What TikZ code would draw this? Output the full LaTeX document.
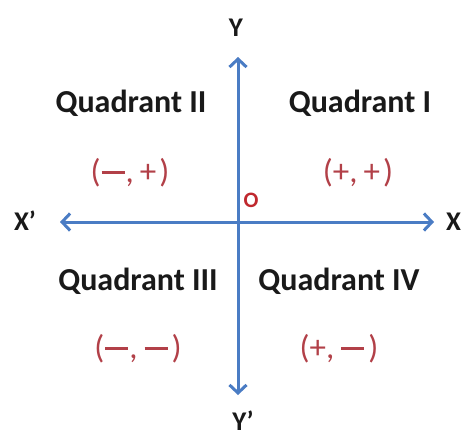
\documentclass[tikz,border=0pt]{standalone}
\usepackage{fontspec}
\setmainfont{Carlito}
\usetikzlibrary{arrows.meta}
\definecolor{axisblue}{RGB}{74,124,196}
\definecolor{signred}{RGB}{178,64,72}
\definecolor{ored}{RGB}{192,40,46}
\definecolor{txtblack}{RGB}{25,25,25}
\newcommand\mn{\kern1pt\rule[8pt]{23pt}{2.6pt}\kern1pt}
\newcommand\sgn[2]{(#1,\kern6pt#2\kern3pt)}
\tikzset{
  axisline/.style={draw=axisblue, line width=3pt,
    {Straight Barb[length=8pt,width=17pt]}-{Straight Barb[length=8pt,width=17pt]}},
  quadlabel/.style={anchor=base, inner sep=0pt, text=txtblack,
    font=\bfseries\fontsize{32}{38}\selectfont},
  signlabel/.style={anchor=base, inner sep=0pt, text=signred,
    font=\fontsize{33}{38}\selectfont},
  axislabel/.style={inner sep=0pt, text=txtblack,
    font=\bfseries\fontsize{27}{31}\selectfont},
  originlabel/.style={inner sep=0pt, text=ored,
    font=\bfseries\fontsize{22}{26}\selectfont}
}
\begin{document}
\begin{tikzpicture}[x=1pt,y=-1pt]
\useasboundingbox[fill=white] (0,0) rectangle (465,436);
% axis end points
\coordinate (o) at (238,222);
\coordinate (xl) at (60,222);
\coordinate (xr) at (434,222);
\coordinate (yt) at (238,57);
\coordinate (yb) at (238,395);
\draw[axisline] (xl) -- (xr);
\draw[axisline] (yb) -- (yt);
% axis labels
\node[axislabel] (lx1) at (25,221) {X’};
\node[axislabel, anchor=west] (lx) at (446,222) {X};
\node[axislabel] (ly) at (236,28) {Y};
\node[axislabel, anchor=base] (ly1) at (243,430) {Y’};
\node[originlabel] (lo) at (251,200) {O};
% quadrant names
\node[quadlabel] (q2) at (131,112) {Quadrant II};
\node[quadlabel] (q1) at (360,112) {Quadrant I};
\node[quadlabel] (q3) at (138,290) {Quadrant III};
\node[quadlabel] (q4) at (339,290) {Quadrant IV};
% signs
\node[signlabel] (s2) at (130,182) {\sgn{\mn}{+}};
\node[signlabel] (s1) at (358,182) {\sgn{+}{+}};
\node[signlabel] (s3) at (138,358) {\sgn{\mn}{\mn}};
\node[signlabel] (s4) at (339,358) {\sgn{+}{\mn}};
\end{tikzpicture}
\end{document}
